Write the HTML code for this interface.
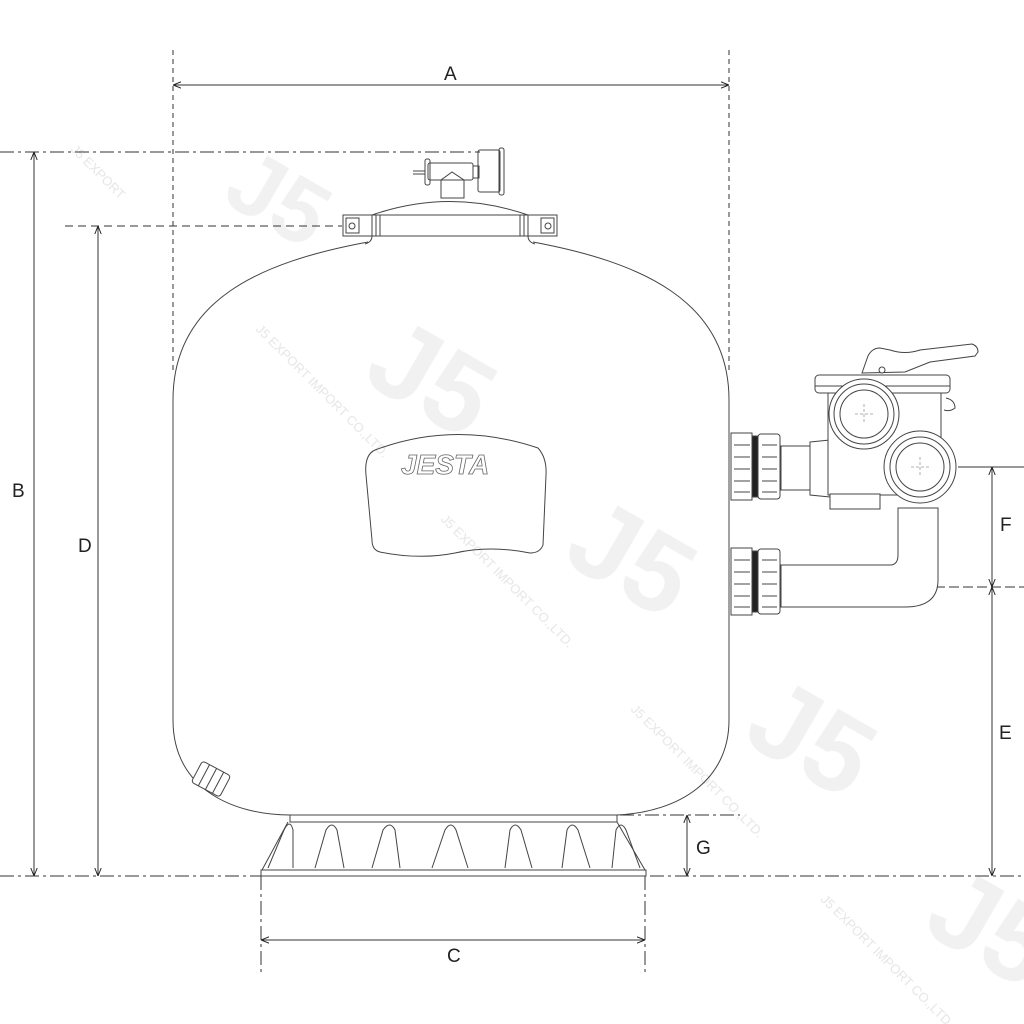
<!DOCTYPE html>
<html><head><meta charset="utf-8"><style>
html,body{margin:0;padding:0;background:#fff;}
svg{display:block;}
text{font-family:"Liberation Sans",sans-serif;}
</style></head><body>
<svg width="1024" height="1024" viewBox="0 0 1024 1024" xmlns="http://www.w3.org/2000/svg">
<defs>
<marker id="ar" viewBox="0 0 10 10" refX="10" refY="5" markerWidth="8" markerHeight="8" orient="auto-start-reverse"><path d="M0,1 L10,5 L0,9" fill="none" stroke="#222" stroke-width="1.2"/></marker>
</defs>
<!-- watermarks -->
<g fill="none" stroke="#ececec" stroke-width="10" opacity="0.9">
<g transform="translate(220,200) rotate(30)"><text x="0" y="0" font-size="90" font-weight="bold" fill="#f0f0f0" stroke="none">J5</text></g>
<g transform="translate(360,380) rotate(30)"><text x="0" y="0" font-size="110" font-weight="bold" fill="#f0f0f0" stroke="none">J5</text></g>
<g transform="translate(560,560) rotate(30)"><text x="0" y="0" font-size="110" font-weight="bold" fill="#f0f0f0" stroke="none">J5</text></g>
<g transform="translate(740,740) rotate(30)"><text x="0" y="0" font-size="110" font-weight="bold" fill="#f0f0f0" stroke="none">J5</text></g>
<g transform="translate(920,930) rotate(30)"><text x="0" y="0" font-size="110" font-weight="bold" fill="#f0f0f0" stroke="none">J5</text></g>
</g>
<g fill="#e6e6e6" font-size="13">
<text transform="translate(255,330) rotate(45)">J5 EXPORT IMPORT CO.,LTD.</text>
<text transform="translate(440,520) rotate(45)">J5 EXPORT IMPORT CO.,LTD.</text>
<text transform="translate(630,710) rotate(45)">J5 EXPORT IMPORT CO.,LTD.</text>
<text transform="translate(820,900) rotate(45)">J5 EXPORT IMPORT CO.,LTD.</text>
<text transform="translate(70,150) rotate(45)">J5 EXPORT</text>
</g>

<!-- dimension lines -->
<g stroke="#333" stroke-width="1" fill="none">
<line x1="173" y1="50" x2="173" y2="370" stroke-dasharray="5,4"/>
<line x1="729" y1="50" x2="729" y2="370" stroke-dasharray="5,4"/>
<line x1="173" y1="85" x2="729" y2="85" marker-start="url(#ar)" marker-end="url(#ar)"/>
<line x1="0" y1="152" x2="480" y2="152" stroke-dasharray="14,4,3,4"/>
<line x1="65" y1="226" x2="342" y2="226" stroke-dasharray="8,5"/>
<line x1="34" y1="152" x2="34" y2="876" marker-start="url(#ar)" marker-end="url(#ar)"/>
<line x1="98" y1="226" x2="98" y2="876" marker-start="url(#ar)" marker-end="url(#ar)"/>
<line x1="0" y1="876" x2="1024" y2="876" stroke-dasharray="14,4,3,4"/>
<line x1="261" y1="876" x2="261" y2="975" stroke-dasharray="14,4,3,4"/>
<line x1="645" y1="876" x2="645" y2="975" stroke-dasharray="14,4,3,4"/>
<line x1="261" y1="940" x2="645" y2="940" marker-start="url(#ar)" marker-end="url(#ar)"/>
<line x1="620" y1="815" x2="740" y2="815" stroke-dasharray="14,4,3,4"/>
<line x1="687" y1="815" x2="687" y2="876" marker-start="url(#ar)" marker-end="url(#ar)"/>
<line x1="958" y1="467" x2="1024" y2="467"/>
<line x1="935" y1="587" x2="1024" y2="587" stroke-dasharray="10,4"/>
<line x1="992" y1="467" x2="992" y2="587" marker-start="url(#ar)" marker-end="url(#ar)"/>
<line x1="992" y1="587" x2="992" y2="876" marker-start="url(#ar)" marker-end="url(#ar)"/>
</g>
<g font-size="19" fill="#222">
<text x="444" y="80">A</text>
<text x="12" y="497">B</text>
<text x="78" y="552">D</text>
<text x="447" y="962">C</text>
<text x="696" y="854">G</text>
<text x="1000" y="531">F</text>
<text x="999" y="739">E</text>
</g>

<!-- tank -->
<g stroke="#444" stroke-width="1" fill="none">
<path d="M368,242 C260,262 173,300 173,400 L173,720 C173,790 235,815 290,815 M617,815 C680,812 729,780 729,720 L729,400 C729,300 640,262 533,242"/>
<path d="M372,215 Q450,188 528,215"/>
<rect x="343" y="215" width="214" height="21"/>
<line x1="372" y1="215" x2="372" y2="236"/><line x1="376" y1="215" x2="376" y2="236"/><line x1="380" y1="215" x2="380" y2="236"/>
<line x1="520" y1="215" x2="520" y2="236"/><line x1="524" y1="215" x2="524" y2="236"/><line x1="528" y1="215" x2="528" y2="236"/>
<rect x="346" y="218" width="13" height="15"/><circle cx="352" cy="226" r="3"/>
<rect x="541" y="218" width="13" height="15"/><circle cx="548" cy="226" r="3"/>
<path d="M372,236 Q372,242 365,244 M528,236 Q528,242 535,244"/>
<path d="M441,198 L441,180 L452,172 L464,180 L464,198 Z"/>
<rect x="428" y="163" width="45" height="17" rx="2"/>
<rect x="425" y="159" width="5" height="26" rx="2"/>
<line x1="413" y1="171" x2="425" y2="171"/><line x1="413" y1="174" x2="425" y2="174"/>
<rect x="473" y="166" width="6" height="12"/>
<rect x="478" y="150" width="22" height="42" rx="2"/>
<rect x="499" y="148" width="5" height="47" rx="2"/>
<path d="M375,450 Q455,420 538,448 Q547,458 546,475 L543,545 Q540,553 530,553 Q490,545 455,553 Q420,560 380,552 Q372,550 372,540 L366,475 Q364,455 375,450 Z"/>
</g>
<text x="401" y="474" font-size="28" font-style="italic" font-weight="bold" fill="#fff" stroke="#666" stroke-width="0.8">JESTA</text>

<g transform="translate(211,779) rotate(28)" stroke="#444" fill="#fff" stroke-width="1">
<rect x="-16" y="-12" width="32" height="24" rx="3"/>
<line x1="-8" y1="-12" x2="-8" y2="12"/><line x1="0" y1="-12" x2="0" y2="12"/><line x1="8" y1="-12" x2="8" y2="12"/>
</g>

<g stroke="#444" stroke-width="1" fill="none">
<path d="M290,815 L617,815 L617,822 L290,822 Z"/>
<path d="M288,822 L262,870 L645,870 L617,822"/>
<rect x="261" y="870" width="385" height="6"/>
<path d="M268,868 L284,830 Q290,818 293,830 L293,868"/>
<path d="M315,868 L326,830 Q332,820 337,830 L344,868"/>
<path d="M372,868 L383,830 Q390,820 395,830 L400,868"/>
<path d="M432,868 L445,830 Q451,820 456,830 L468,868"/>
<path d="M505,868 L510,830 Q515,820 521,830 L532,868"/>
<path d="M562,868 L567,830 Q572,820 578,830 L590,868"/>
<path d="M612,868 L616,830 Q621,820 626,830 L640,868"/>
</g>

<g stroke="#444" stroke-width="1" fill="#fff">
<path d="M781,565 L890,565 Q898,565 898,555 L898,508 L938,508 L938,580 Q938,607 905,607 L781,607 Z"/>
<rect x="781" y="446" width="30" height="44"/>
<path d="M810,442 L830,440 Q850,445 850,468 Q850,490 830,497 L810,495 Z"/>
<rect x="828" y="390" width="113" height="105"/>
<rect x="830" y="494" width="50" height="15"/>
<path d="M862,373 L868,356 Q872,348 880,348 L890,350 Q905,355 920,350 L972,344 Q978,346 978,352 L975,356 L930,362 L905,372 Z"/>
<rect x="815" y="375" width="135" height="18" rx="4"/>
<line x1="815" y1="386" x2="950" y2="386"/>
<circle cx="882" cy="370" r="3"/>
<path d="M946,398 Q955,400 955,408 Q950,412 944,410"/>
<circle cx="864" cy="414" r="35"/><circle cx="864" cy="414" r="30"/><circle cx="864" cy="414" r="24"/>
<circle cx="920" cy="467" r="36"/><circle cx="920" cy="467" r="30"/><circle cx="920" cy="467" r="24"/>
</g>
<g stroke="#999" stroke-width="0.8" stroke-dasharray="3,2">
<line x1="855" y1="414" x2="874" y2="414"/><line x1="864" y1="404" x2="864" y2="424"/>
<line x1="911" y1="467" x2="930" y2="467"/><line x1="920" y1="457" x2="920" y2="477"/>
</g>
<g stroke="#444" stroke-width="1" fill="#fff">
<g>
<rect x="731" y="433" width="21" height="67"/><rect x="752" y="436" width="6" height="61" fill="#222"/><rect x="758" y="434" width="22" height="65" rx="3"/>
<line x1="734" y1="445" x2="750" y2="445"/><line x1="734" y1="457" x2="750" y2="457"/><line x1="734" y1="469" x2="750" y2="469"/><line x1="734" y1="481" x2="750" y2="481"/><line x1="734" y1="492" x2="750" y2="492"/>
<line x1="762" y1="445" x2="777" y2="445"/><line x1="762" y1="457" x2="777" y2="457"/><line x1="762" y1="469" x2="777" y2="469"/><line x1="762" y1="481" x2="777" y2="481"/><line x1="762" y1="492" x2="777" y2="492"/>
</g>
<g transform="translate(0,115)">
<rect x="731" y="433" width="21" height="67"/><rect x="752" y="436" width="6" height="61" fill="#222"/><rect x="758" y="434" width="22" height="65" rx="3"/>
<line x1="734" y1="445" x2="750" y2="445"/><line x1="734" y1="457" x2="750" y2="457"/><line x1="734" y1="469" x2="750" y2="469"/><line x1="734" y1="481" x2="750" y2="481"/><line x1="734" y1="492" x2="750" y2="492"/>
<line x1="762" y1="445" x2="777" y2="445"/><line x1="762" y1="457" x2="777" y2="457"/><line x1="762" y1="469" x2="777" y2="469"/><line x1="762" y1="481" x2="777" y2="481"/><line x1="762" y1="492" x2="777" y2="492"/>
</g>
</g>
</svg>
</body></html>
